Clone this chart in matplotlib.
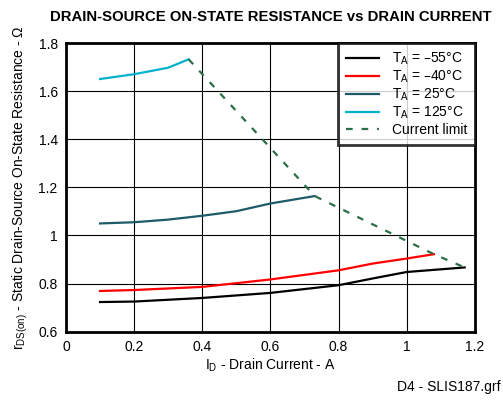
import matplotlib
matplotlib.use("Agg")
import matplotlib.pyplot as plt

# drain current (A) and on-state resistance (ohm) per temperature
i_m55 = [0.1, 0.2, 0.4, 0.6, 0.8, 0.9, 1.0, 1.17]
r_m55 = [0.723, 0.725, 0.740, 0.761, 0.793, 0.821, 0.848, 0.867]

i_m40 = [0.1, 0.2, 0.4, 0.6, 0.8, 0.9, 1.0, 1.08]
r_m40 = [0.769, 0.773, 0.786, 0.817, 0.855, 0.883, 0.904, 0.922]

i_25 = [0.1, 0.2, 0.3, 0.4, 0.5, 0.6, 0.73]
r_25 = [1.05, 1.055, 1.066, 1.082, 1.101, 1.133, 1.164]

i_125 = [0.1, 0.2, 0.3, 0.36]
r_125 = [1.651, 1.671, 1.698, 1.733]

i_limit = [0.36, 0.73, 1.08, 1.17]
r_limit = [1.733, 1.164, 0.922, 0.867]

plt.rcParams['font.family'] = ['Liberation Sans', 'DejaVu Sans']

fig = plt.figure(figsize=(5.03, 4.0), dpi=100)
ax = fig.add_axes([0.1312, 0.171, 0.8128, 0.721])

ax.plot(i_m55, r_m55, color='black', lw=1.6, label=r'T$_\mathregular{A}$ = –55°C')
ax.plot(i_m40, r_m40, color='#ff0000', lw=1.6, label=r'T$_\mathregular{A}$ = –40°C')
ax.plot(i_25, r_25, color='#1d5a6a', lw=1.6, label=r'T$_\mathregular{A}$ = 25°C')
ax.plot(i_125, r_125, color='#00b2cc', lw=1.6, label=r'T$_\mathregular{A}$ = 125°C')
ax.plot(i_limit, r_limit, color='#2a6e46', lw=1.6, ls=(0, (3, 4)), label='Current limit')

ax.set_xlim(0, 1.2)
ax.set_ylim(0.6, 1.8)
ax.set_xticks([0, 0.2, 0.4, 0.6, 0.8, 1, 1.2])
ax.set_xticklabels(['0', '0.2', '0.4', '0.6', '0.8', '1', '1.2'])
ax.set_yticks([0.6, 0.8, 1, 1.2, 1.4, 1.6, 1.8])
ax.set_yticklabels(['0.6', '0.8', '1', '1.2', '1.4', '1.6', '1.8'])
ax.tick_params(length=0, labelsize=10, pad=6)
ax.grid(True, color='black', lw=0.8)
for s in ax.spines.values():
    s.set_linewidth(2)

ax.set_xlabel(r'I$_\mathregular{D}$ - Drain Current - A', fontsize=10, labelpad=2)
ax.set_ylabel(r'r$_\mathregular{DS(on)}$ - Static Drain-Source On-State Resistance - Ω',
              fontsize=10, labelpad=6)
ax.set_title('DRAIN-SOURCE ON-STATE RESISTANCE vs DRAIN CURRENT',
             fontsize=10.7, fontweight='bold', pad=16)

leg = ax.legend(loc='upper right', fontsize=10, frameon=True, fancybox=False,
                borderaxespad=0, handlelength=2.4, labelspacing=0.12,
                borderpad=0.55, handletextpad=0.9)
leg.get_frame().set_edgecolor('black')
leg.get_frame().set_linewidth(2)

fig.text(0.995, 0.015, 'D4 - SLIS187.grf', ha='right', va='bottom', fontsize=10)

fig.savefig('out.png', dpi=100)
